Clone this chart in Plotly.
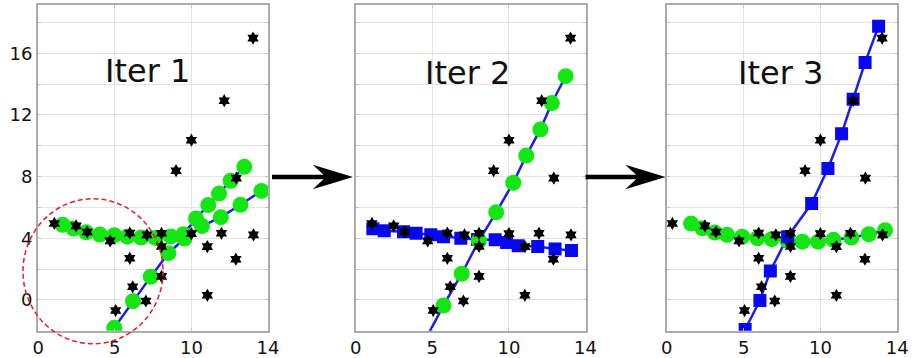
import plotly.graph_objects as go

W, H = 918, 358

# ---------------- data ----------------
star_x = [1.06, 2.48, 3.2, 4.7, 5.98, 5.98, 6.17, 5.06, 7.03, 7.1, 8.05, 8.05, 8.05,
          9.0, 10.0, 10.0, 11.04, 11.04, 11.96, 12.14, 12.93, 12.9, 14.02, 14.05]
star_y = [4.96, 4.80, 4.41, 3.83, 4.34, 2.70, 0.85, -0.69, -0.07, 4.22, 4.32, 3.47, 1.53,
          8.38, 10.36, 4.30, 3.46, 0.30, 4.32, 12.92, 7.9, 2.64, 16.98, 4.22]
star_x_iter3 = [0.36, 2.48, 3.2, 4.7, 5.98, 5.98, 6.17, 5.06, 7.03, 7.1, 8.05, 8.05, 8.05,
                9.0, 10.0, 10.0, 11.04, 11.04, 11.96, 12.14, 12.93, 12.9, 14.02, 14.05]

# Iter 1: two green curves
iter1_a_x = [1.6, 2.31, 3.13, 4.03, 4.97, 5.82, 6.72, 7.65, 8.66, 9.48, 10.3, 11.1, 11.8, 12.56, 13.45]
iter1_a_y = [4.87, 4.63, 4.39, 4.24, 4.2, 4.1, 4.05, 4.02, 4.12, 4.26, 5.28, 6.15, 6.9, 7.73, 8.63]
iter1_b_x = [4.97, 6.19, 7.35, 8.5, 9.55, 10.69, 11.92, 13.2, 14.57]
iter1_b_y = [-1.81, -0.08, 1.51, 3.03, 3.98, 4.79, 5.37, 6.17, 7.07]

# Iter 2: green steep line, blue flat line
iter2_green_tail_x = [4.75]
iter2_green_tail_y = [-2.2]
iter2_green_x = [5.73, 6.92, 8.04, 9.17, 10.28, 11.13, 12.05, 12.80, 13.70]
iter2_green_y = [-0.36, 1.70, 3.84, 5.68, 7.60, 9.36, 11.06, 12.77, 14.51]
iter2_blue_x = [1.12, 1.86, 3.12, 3.94, 4.9, 5.73, 6.86, 7.95, 9.1, 9.85, 10.6, 11.88, 13.01, 14.08]
iter2_blue_y = [4.61, 4.48, 4.42, 4.33, 4.22, 4.10, 4.0, 3.92, 3.9, 3.73, 3.52, 3.46, 3.3, 3.2]

# Iter 3: blue steep line, green flat curve
iter3_blue_x = [5.1, 6.06, 6.74, 7.87, 9.43, 10.49, 11.38, 12.13, 12.91, 13.79]
iter3_blue_y = [-1.92, -0.04, 1.88, 4.1, 6.25, 8.53, 10.77, 13.01, 15.4, 17.75]
iter3_green_x = [1.58, 2.32, 3.13, 3.92, 4.91, 5.9, 6.83, 7.85, 8.83, 9.85, 10.85, 12.02, 13.15, 14.21]
iter3_green_y = [4.95, 4.65, 4.37, 4.22, 4.1, 4.0, 3.94, 3.85, 3.78, 3.78, 3.9, 4.05, 4.26, 4.52]

titles = ["Iter 1", "Iter 2", "Iter 3"]
title_x = [7.12, 7.29, 7.4]
title_y = [14.85, 14.7, 14.7]
x_tickvals = [0, 5, 10, 15]
x_ticktext = ["0", "5", "10", "14"]
y_tickvals = [0, 4, 8, 12, 16]

# ---------------- style ----------------
GREEN = "#14e614"
BLUE_LINE = "#1e1ee6"
BLUE_MARK = "#0808ee"
FONT = "DejaVu Sans"

fig = go.Figure()


def add_line(xs, ys, ax):
    fig.add_trace(go.Scatter(x=xs, y=ys, mode="lines", xaxis=ax[0], yaxis=ax[1],
                             line=dict(color=BLUE_LINE, width=2.5), hoverinfo="skip"))


def add_marks(xs, ys, ax, kind):
    if kind == "circle":
        m = dict(symbol="circle", size=16, color=GREEN)
    else:
        m = dict(symbol="square", size=13, color=BLUE_MARK)
    fig.add_trace(go.Scatter(x=xs, y=ys, mode="markers", xaxis=ax[0], yaxis=ax[1], marker=m))


def add_stars(xs, ys, ax):
    fig.add_trace(go.Scatter(x=xs, y=ys, mode="markers", xaxis=ax[0], yaxis=ax[1],
                             marker=dict(symbol="hexagram", size=10, color="black")))


A1, A2, A3 = ("x", "y"), ("x2", "y2"), ("x3", "y3")

# panel 1
add_line(iter1_a_x, iter1_a_y, A1)
add_line(iter1_b_x, iter1_b_y, A1)
add_marks(iter1_a_x, iter1_a_y, A1, "circle")
add_marks(iter1_b_x, iter1_b_y, A1, "circle")
add_stars(star_x, star_y, A1)

# panel 2
add_line(iter2_green_tail_x + iter2_green_x, iter2_green_tail_y + iter2_green_y, A2)
add_line(iter2_blue_x, iter2_blue_y, A2)
add_marks(iter2_blue_x, iter2_blue_y, A2, "square")
add_marks(iter2_green_x, iter2_green_y, A2, "circle")
add_stars(star_x, star_y, A2)

# panel 3
add_line(iter3_green_x, iter3_green_y, A3)
add_line(iter3_blue_x, iter3_blue_y, A3)
add_marks(iter3_green_x, iter3_green_y, A3, "circle")
add_marks(iter3_blue_x, iter3_blue_y, A3, "square")
add_stars(star_x_iter3, star_y, A3)

# ---------------- layout ----------------
x_domains_px = [(32.7, 267.0), (356.3, 590.5), (673.3, 908.0)]
y_dom = [1 - 334.5 / H, 1 - 5.5 / H]

grid_c = "#e4e4e4"
frame_c = "#ababab"
tick_c = "#c4c4c4"

layout = dict(
    width=W, height=H, margin=dict(l=0, r=0, t=0, b=0),
    paper_bgcolor="white", plot_bgcolor="white", showlegend=False,
    font=dict(family=FONT, size=18, color="#111111"),
)

for i, (a, b) in enumerate(x_domains_px):
    sfx = "" if i == 0 else str(i + 1)
    layout["xaxis" + sfx] = dict(
        domain=[a / W, b / W], range=[0, 15], anchor="y" + sfx,
        tickvals=x_tickvals, ticktext=x_ticktext,
        showgrid=True, gridcolor=grid_c, gridwidth=1, zeroline=False,
        showline=True, linecolor=frame_c, linewidth=2, mirror="ticks",
        ticks="inside", ticklen=3, tickcolor=tick_c,
        tickfont=dict(family=FONT, size=18, color="#111111"),
    )
    layout["yaxis" + sfx] = dict(
        domain=y_dom, range=[-2, 19.1], anchor="x" + sfx,
        tickvals=y_tickvals, showticklabels=(i == 0),
        showgrid=True, gridcolor=grid_c, gridwidth=1, zeroline=False,
        minor=dict(dtick=2, tick0=0, showgrid=True, gridcolor=grid_c, ticks="inside",
                   ticklen=3, tickcolor=tick_c),
        showline=True, linecolor=frame_c, linewidth=2, mirror="ticks",
        ticks="inside", ticklen=3, tickcolor=tick_c,
        tickfont=dict(family=FONT, size=18, color="#111111"),
    )

fig.update_layout(**layout)

# titles inside panels
for i, t in enumerate(titles):
    sfx = "" if i == 0 else str(i + 1)
    fig.add_annotation(text=t, x=title_x[i], y=title_y[i], xref="x" + sfx, yref="y" + sfx,
                       showarrow=False, xanchor="center", yanchor="middle",
                       font=dict(family=FONT, size=32, color="#111111"))


def px(xp, yp):
    return xp / W, 1 - yp / H


# red dashed circle (highlight)
cx0, cy1 = px(17.3, 201.0)
cx1, cy0 = px(160.0, 347.7)
fig.add_shape(type="circle", xref="paper", yref="paper", x0=cx0, x1=cx1, y0=cy0, y1=cy1,
              line=dict(color="#e02020", width=1.5, dash="5px,3px"), layer="above")


def arrow(x0, x1, yc, shaft=4.8, head_len=41, head_h=25, notch=11):
    pts = [(x0, yc - shaft / 2), (x1 - head_len + notch, yc - shaft / 2),
           (x1 - head_len, yc - head_h / 2), (x1, yc),
           (x1 - head_len, yc + head_h / 2), (x1 - head_len + notch, yc + shaft / 2),
           (x0, yc + shaft / 2)]
    p = []
    for k, (a, b) in enumerate(pts):
        u, v = px(a, b)
        p.append(("M" if k == 0 else "L") + f"{u:.5f},{v:.5f}")
    return " ".join(p) + " Z"


for (ax0, ax1) in [(271.0, 353.5), (590.5, 672.0)]:
    fig.add_shape(type="path", xref="paper", yref="paper", path=arrow(ax0, ax1, 179.0),
                  fillcolor="black", line=dict(color="black", width=0), layer="above")

fig.write_html("out.html")
